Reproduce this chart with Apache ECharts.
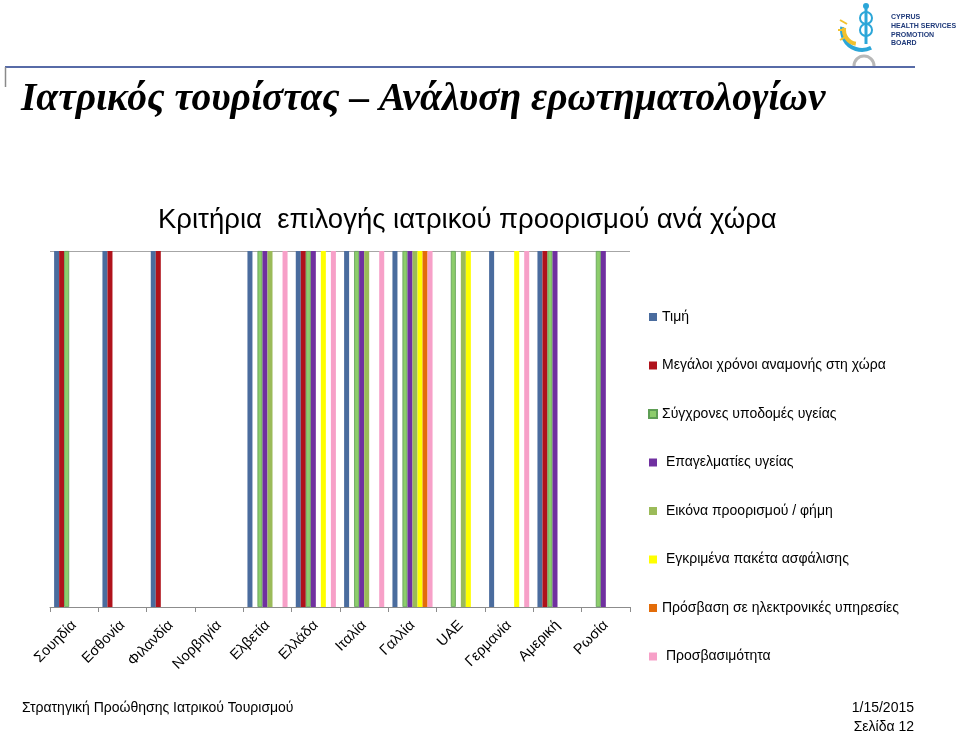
<!DOCTYPE html>
<html>
<head>
<meta charset="utf-8">
<script src="https://cdn.jsdelivr.net/npm/echarts@6/dist/echarts.min.js"></script>
<style>
html,body{margin:0;padding:0;background:#fff;}
#c{width:960px;height:731px;}
</style>
</head>
<body>
<div id="c"></div>
<script>
const categories = ['Σουηδία','Εσθονία','Φιλανδία','Νορβηγία','Ελβετία','Ελλάδα','Ιταλία','Γαλλία','UAE','Γερμανία','Αμερική','Ρωσία'];
const seriesNames = ['Τιμή','Μεγάλοι χρόνοι αναμονής στη χώρα','Σύγχρονες υποδομές υγείας',' Επαγελματίες υγείας',' Εικόνα προορισμού / φήμη',' Εγκριμένα πακέτα ασφάλισης','Πρόσβαση σε ηλεκτρονικές υπηρεσίες',' Προσβασιμότητα'];
const timi            = [1,1,1,0,1,1,1,1,0,1,1,0];
const anamoni         = [1,1,1,0,0,1,0,0,0,0,1,0];
const ypodomes        = [1,0,0,0,1,1,1,1,1,0,1,1];
const epaggelmaties   = [0,0,0,0,1,1,1,1,0,0,1,1];
const eikona          = [0,0,0,0,1,0,1,1,1,0,0,0];
const asfalisi        = [0,0,0,0,0,1,0,1,1,1,0,0];
const ilektronikes    = [0,0,0,0,0,0,0,1,0,0,0,0];
const prosvasimotita  = [0,0,0,0,1,1,1,1,0,1,0,0];
const seriesValues = [timi, anamoni, ypodomes, epaggelmaties, eikona, asfalisi, ilektronikes, prosvasimotita];
const colors = ['#4A6C9E','#B0121B','#8DCD6C','#7030A0','#9BBB59','#FFFF00','#E36C09','#F7A0C8'];

const chart = echarts.init(document.getElementById('c'), null, {renderer:'canvas'});
const series = seriesValues.map((vals, i) => ({
  name: seriesNames[i],
  type: 'bar',
  barGap: '0%',
  barCategoryGap: '17%',
  data: vals.map(v => v === 0 ? '-' : v),
  itemStyle: i === 2 ? {color: colors[i], borderColor: '#5E9E55', borderWidth: 0.8} : {color: colors[i]},
  emphasis: {disabled: true},
  animation: false
}));

chart.setOption({
  animation: false,
  color: colors,
  graphic: [
    {type:'line', shape:{x1:5,y1:67,x2:915,y2:67}, style:{stroke:'#1F3A8A', lineWidth:1.5}},
    {type:'line', shape:{x1:5.5,y1:67,x2:5.5,y2:87}, style:{stroke:'#8A8A8A', lineWidth:1.5}},
    {type:'text', left:21, top:80, style:{text:'Ιατρικός τουρίστας – Ανάλυση ερωτηματολογίων', font:'italic bold 39.5px "Liberation Serif", "DejaVu Serif", serif', fill:'#000'}},
    {type:'text', left:158, top:206, style:{text:'Κριτήρια  επιλογής ιατρικού προορισμού ανά χώρα', font:'27.5px "Liberation Sans", Arial, sans-serif', fill:'#000'}},
    {type:'text', left:22, top:701, style:{text:'Στρατηγική Προώθησης Ιατρικού Τουρισμού', font:'14px "Liberation Sans", Arial, sans-serif', fill:'#000'}},
    {type:'text', right:46, top:701, style:{text:'1/15/2015', font:'14px "Liberation Sans", Arial, sans-serif', fill:'#000', align:'right'}},
    {type:'text', right:46, top:720, style:{text:'Σελίδα 12', font:'14px "Liberation Sans", Arial, sans-serif', fill:'#000', align:'right'}},
    // logo
    {type:'arc', shape:{cx:862, cy:30, r:20, startAngle:Math.PI*0.35, endAngle:Math.PI*1.05}, style:{stroke:'#2BA6D8', lineWidth:4, fill:null}},
    {type:'arc', shape:{cx:858, cy:30, r:14, startAngle:Math.PI*0.55, endAngle:Math.PI*1.05}, style:{stroke:'#F2C12E', lineWidth:4, fill:null}},
    {type:'line', shape:{x1:866,y1:6,x2:866,y2:44}, style:{stroke:'#2BA6D8', lineWidth:3}},
    {type:'circle', shape:{cx:866, cy:6, r:3}, style:{fill:'#2BA6D8'}},
    {type:'arc', shape:{cx:866, cy:18, r:6, startAngle:0, endAngle:Math.PI*2}, style:{stroke:'#2BA6D8', lineWidth:2, fill:null}},
    {type:'arc', shape:{cx:866, cy:30, r:6, startAngle:0, endAngle:Math.PI*2}, style:{stroke:'#2BA6D8', lineWidth:2, fill:null}},
    {type:'line', shape:{x1:838,y1:30,x2:846,y2:30}, style:{stroke:'#F2C12E', lineWidth:2}},
    {type:'line', shape:{x1:840,y1:20,x2:847,y2:24}, style:{stroke:'#F2C12E', lineWidth:2}},
    {type:'line', shape:{x1:840,y1:40,x2:847,y2:36}, style:{stroke:'#F2C12E', lineWidth:2}},
    {type:'arc', shape:{cx:864, cy:66, r:10, startAngle:Math.PI, endAngle:Math.PI*2}, style:{stroke:'#B8B8B8', lineWidth:3, fill:null}},
    {type:'text', left:891, top:13, style:{text:'CYPRUS\nHEALTH SERVICES\nPROMOTION\nBOARD', font:'bold 7px "Liberation Sans Narrow", "Liberation Sans", Arial, sans-serif', lineHeight:8.7, fill:'#1F3A7A'}}
  ],
  legend: {
    orient: 'vertical',
    left: 648,
    top: 310,
    padding: 0,
    itemWidth: 8,
    itemHeight: 8,
    itemGap: 34.5,
    icon: 'rect',
    textStyle: {fontSize: 14, fontFamily: '"Liberation Sans", Arial, sans-serif', color: '#000', lineHeight: 14},
    data: seriesNames
  },
  grid: {left: 50, right: 330, top: 251, bottom: 124, containLabel: false},
  xAxis: {
    type: 'category',
    data: categories,
    axisLine: {lineStyle: {color: '#8C8C8C'}},
    axisTick: {show: true, alignWithLabel: false, length: 5, lineStyle: {color: '#8C8C8C'}},
    axisLabel: {rotate: 45, interval: 0, fontSize: 14.5, fontFamily: '"Liberation Sans", Arial, sans-serif', color: '#000', margin: 16}
  },
  yAxis: {
    type: 'value',
    min: 0, max: 1, interval: 1,
    axisLine: {show: false},
    axisTick: {show: false},
    axisLabel: {show: false},
    splitLine: {show: true, lineStyle: {color: '#A6A6A6'}}
  },
  series: series
});
</script>
</body>
</html>
